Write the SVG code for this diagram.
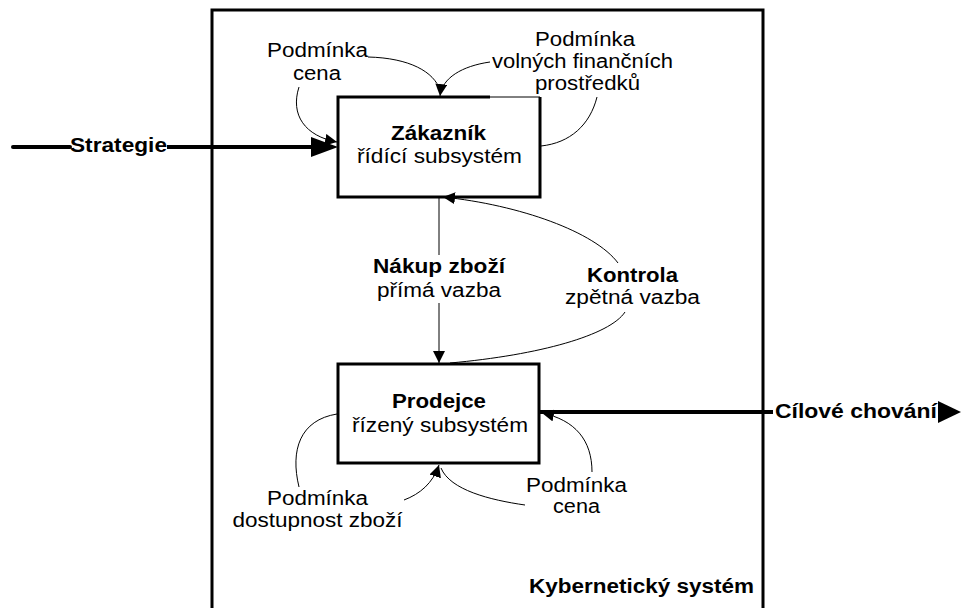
<svg xmlns="http://www.w3.org/2000/svg" width="961" height="608" viewBox="0 0 961 608">
<defs>
<style>
text{font-family:"Liberation Sans",Arial,sans-serif;font-size:19.5px;fill:#000;text-anchor:middle}
.b{font-weight:bold}
.thin{fill:none;stroke:#000;stroke-width:1}
.thick{fill:none;stroke:#000;stroke-width:4}
.box{fill:#fff;stroke:#000;stroke-width:3}
</style>
<marker id="ah" viewBox="0 0 12 12" refX="12" refY="6" markerWidth="12" markerHeight="12" orient="auto" markerUnits="userSpaceOnUse"><path d="M0,0 L12,6 L0,12 z" fill="#000"/></marker>
</defs>
<rect width="961" height="608" fill="#fff"/>
<g id="system">
<path d="M212,612 V10 H763 V612" fill="none" stroke="#000" stroke-width="3"/>
<text class="b" x="641.5" y="593" textLength="225" lengthAdjust="spacingAndGlyphs">Kybernetický systém</text>
</g>
<g id="zakaznik">
<rect x="338" y="97" width="202" height="100" fill="#fff" stroke="none"/>
<path d="M490,97 H338 V197 H540 V97" fill="none" stroke="#000" stroke-width="3"/>
<path d="M490,97 H540" class="thin"/>
<text class="b" x="438.5" y="140" textLength="95" lengthAdjust="spacingAndGlyphs">Zákazník</text>
<text x="439.5" y="163" textLength="165" lengthAdjust="spacingAndGlyphs">řídící subsystém</text>
</g>
<g id="prodejce">
<rect class="box" x="338" y="364" width="201" height="99"/>
<text class="b" x="439" y="408" textLength="94" lengthAdjust="spacingAndGlyphs">Prodejce</text>
<text x="440" y="432" textLength="176" lengthAdjust="spacingAndGlyphs">řízený subsystém</text>
</g>
<g id="labels">
<text x="317.5" y="57" textLength="101" lengthAdjust="spacingAndGlyphs">Podmínka</text>
<text x="317" y="80" textLength="48" lengthAdjust="spacingAndGlyphs">cena</text>
<text x="585" y="46" textLength="100" lengthAdjust="spacingAndGlyphs">Podmínka</text>
<text x="582.5" y="68" textLength="181" lengthAdjust="spacingAndGlyphs">volných finančních</text>
<text x="587.5" y="90" textLength="105" lengthAdjust="spacingAndGlyphs">prostředků</text>
<text class="b" x="118.5" y="152" textLength="97" lengthAdjust="spacingAndGlyphs">Strategie</text>
<text class="b" x="439" y="273" textLength="132" lengthAdjust="spacingAndGlyphs">Nákup zboží</text>
<text x="439" y="297" textLength="124" lengthAdjust="spacingAndGlyphs">přímá vazba</text>
<text class="b" x="632.5" y="282" textLength="91" lengthAdjust="spacingAndGlyphs">Kontrola</text>
<text x="632.5" y="304" textLength="135" lengthAdjust="spacingAndGlyphs">zpětná vazba</text>
<text class="b" x="856" y="418" textLength="162" lengthAdjust="spacingAndGlyphs">Cílové chování</text>
<text x="317.5" y="505" textLength="101" lengthAdjust="spacingAndGlyphs">Podmínka</text>
<text x="317.5" y="527" textLength="170" lengthAdjust="spacingAndGlyphs">dostupnost zboží</text>
<text x="576.5" y="492" textLength="101" lengthAdjust="spacingAndGlyphs">Podmínka</text>
<text x="576.5" y="513" textLength="47" lengthAdjust="spacingAndGlyphs">cena</text>
</g>
<g id="connectors">
<path class="thick" d="M13,147 H70" stroke-linecap="round"/>
<path class="thick" d="M167,147 H313"/>
<polygon points="311,137 338,147 311,157" fill="#000"/>
<path class="thick" d="M540,412 H773"/>
<polygon points="938,401 961,412 938,423" fill="#000"/>
<path class="thin" d="M439,197 V255"/>
<path class="thin" d="M439,303 V363" marker-end="url(#ah)"/>
<path class="thin" d="M450,363 C540,355 610,335 625,312"/>
<path class="thin" d="M618,263 C595,232 520,205 443,197" marker-end="url(#ah)"/>
<path class="thin" d="M299,87 C290,115 305,136 337,142" marker-end="url(#ah)"/>
<path class="thin" d="M368,57 C410,58 434,72 440,90"/>
<path class="thin" d="M490,62 C462,66 442,78 440,96" marker-end="url(#ah)"/>
<path class="thin" d="M597,97 C590,125 570,143 541,146"/>
<path class="thin" d="M299,487 C290,450 300,420 337,414"/>
<path class="thin" d="M404,500 C420,494 433,483 439,465" marker-end="url(#ah)"/>
<path class="thin" d="M525,505 C490,500 450,490 441,468"/>
<path class="thin" d="M592,472 C592,440 575,420 542,413" marker-end="url(#ah)"/>
</g>
</svg>
